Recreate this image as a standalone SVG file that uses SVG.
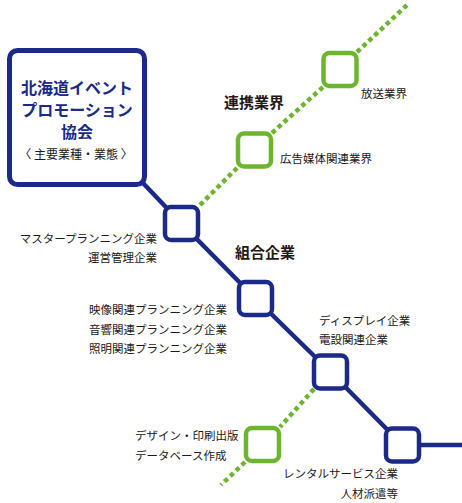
<svg xmlns="http://www.w3.org/2000/svg" width="462" height="503" viewBox="0 0 462 503">
<style>
.blue{fill:none;stroke:#1b2a86;stroke-width:4.5;stroke-linejoin:round}
.green{fill:none;stroke:#6cb52e;stroke-width:4.5;stroke-dasharray:4.5 3.5}
.bn{fill:#fff;stroke:#1b2a86;stroke-width:4.5}
.gn{fill:#fff;stroke:#6cb52e;stroke-width:4.5}
text{font-family:"Noto Sans CJK JP","Noto Sans",sans-serif;fill:#231815}
.lb{font-size:11.5px}
.hd{font-size:15px;font-weight:bold}
.tt{font-size:16px;font-weight:bold;fill:#1b2a86}
</style>
<g id="connectors">
<polyline class="blue" points="142,182 181.5,223.5 255.5,298.5 330.5,372 402.5,445 462,445"/>
<line class="green" x1="200" y1="205" x2="237" y2="168"/>
<line class="green" x1="272" y1="133" x2="323" y2="87"/>
<line class="green" x1="357" y1="52" x2="407" y2="5"/>
<line class="green" x1="314" y1="389" x2="280" y2="427"/>
<line class="green" x1="245" y1="462" x2="221" y2="485"/>
</g>
<g id="association">
<rect x="9.5" y="50.5" width="135" height="134" rx="8" fill="#fff" stroke="#1b2a86" stroke-width="5"/>
<text class="tt" x="77" y="94" text-anchor="middle">北海道イベント</text>
<text class="tt" x="77" y="116" text-anchor="middle">プロモーション</text>
<text class="tt" x="77" y="138" text-anchor="middle">協会</text>
<text x="76" y="159" text-anchor="middle" font-size="12">〈 主要業種・業態 〉</text>
</g>
<g id="n1">
<rect class="bn" x="165" y="207" width="33" height="33" rx="6"/>
<text class="lb" x="157" y="243" text-anchor="end">マスタープランニング企業</text>
<text class="lb" x="157" y="262" text-anchor="end">運営管理企業</text>
</g>
<g id="n2">
<rect class="bn" x="239" y="282" width="33" height="33" rx="6"/>
<text class="lb" x="227" y="314" text-anchor="end">映像関連プランニング企業</text>
<text class="lb" x="227" y="334" text-anchor="end">音響関連プランニング企業</text>
<text class="lb" x="227" y="353" text-anchor="end">照明関連プランニング企業</text>
</g>
<g id="n3">
<rect class="bn" x="314" y="355.5" width="33" height="33" rx="6"/>
<text class="lb" x="319" y="325">ディスプレイ企業</text>
<text class="lb" x="319" y="344">電設関連企業</text>
</g>
<g id="n4">
<rect class="bn" x="386" y="428.5" width="33" height="33" rx="6"/>
<text class="lb" x="398" y="478" text-anchor="end">レンタルサービス企業</text>
<text class="lb" x="398" y="498" text-anchor="end">人材派遣等</text>
</g>
<g id="g1">
<rect class="gn" x="238" y="133.5" width="33" height="33" rx="6"/>
<text class="lb" x="280" y="163">広告媒体関連業界</text>
</g>
<g id="g2">
<rect class="gn" x="323.5" y="53" width="33" height="33" rx="6"/>
<text class="lb" x="361" y="98">放送業界</text>
</g>
<g id="g3">
<rect class="gn" x="246" y="428" width="33" height="33" rx="6"/>
<text class="lb" x="135" y="440">デザイン・印刷出版</text>
<text class="lb" x="135" y="460">データベース作成</text>
</g>
<g id="headings">
<text class="hd" x="224" y="108">連携業界</text>
<text class="hd" x="235" y="258">組合企業</text>
</g>
</svg>
